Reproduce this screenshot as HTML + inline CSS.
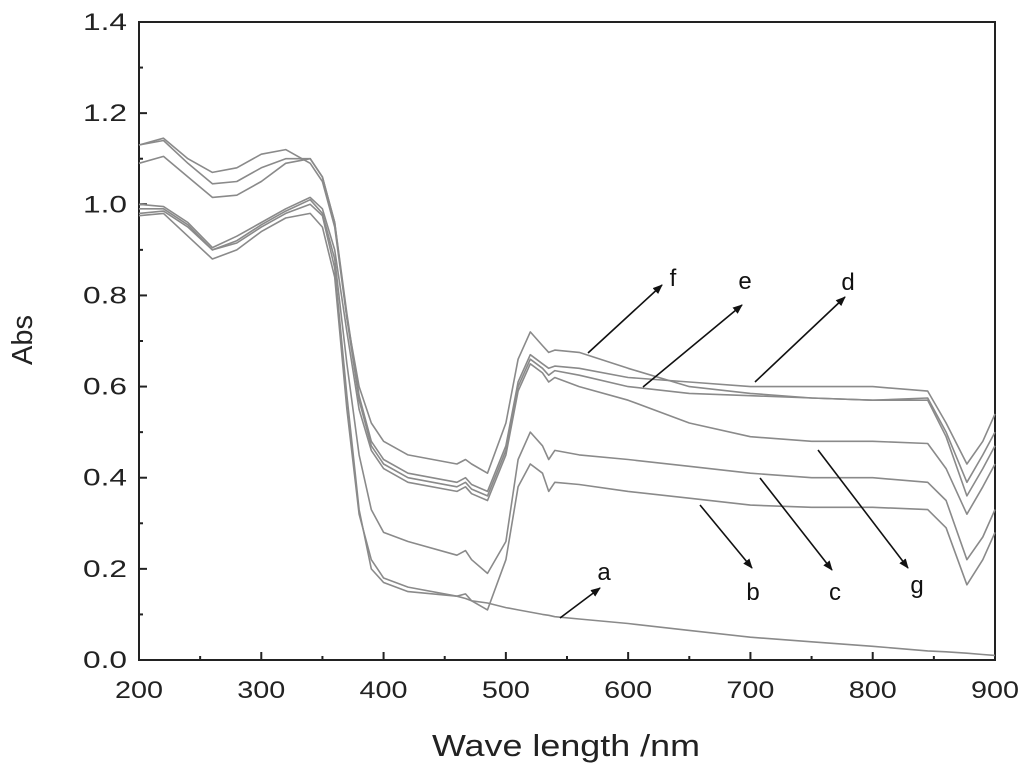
<!DOCTYPE html>
<html><head><meta charset="utf-8"><style>
body{margin:0;background:#fff;}
svg{display:block;font-family:"Liberation Sans",Arial,sans-serif;}
</style></head><body>
<svg id="chart" width="1024" height="769" viewBox="0 0 1024 769" xmlns="http://www.w3.org/2000/svg">
<g id="axes"></g><g id="series"></g><g id="annot"></g>
</svg>
<script>
const wavelengths=[200,220,240,260,280,300,320,340,350,360,370,380,390,400,420,460,467,472,485,500,510,520,530,535,540,560,600,650,700,750,800,845,860,877,890,900];
const seriesNames=['a','b','c','d','e','f','g'];
const seriesA=[0.975,0.98,0.93,0.88,0.90,0.94,0.97,0.98,0.95,0.84,0.55,0.32,0.22,0.18,0.16,0.14,0.135,0.13,0.125,0.115,0.11,0.105,0.1,0.098,0.095,0.09,0.08,0.065,0.05,0.04,0.03,0.02,0.018,0.015,0.012,0.01];
const seriesB=[0.98,0.985,0.95,0.90,0.915,0.95,0.98,1.0,0.975,0.86,0.58,0.33,0.20,0.17,0.15,0.14,0.145,0.13,0.11,0.22,0.38,0.43,0.41,0.37,0.39,0.385,0.37,0.355,0.34,0.335,0.335,0.33,0.29,0.165,0.22,0.28];
const seriesC=[0.99,0.99,0.955,0.90,0.92,0.955,0.985,1.01,0.98,0.88,0.65,0.45,0.33,0.28,0.26,0.23,0.24,0.22,0.19,0.26,0.44,0.50,0.47,0.44,0.46,0.45,0.44,0.425,0.41,0.40,0.40,0.39,0.35,0.22,0.27,0.33];
const seriesD=[1.13,1.14,1.09,1.045,1.05,1.08,1.10,1.10,1.06,0.96,0.76,0.58,0.48,0.44,0.41,0.39,0.40,0.385,0.37,0.47,0.61,0.67,0.65,0.64,0.645,0.64,0.62,0.61,0.60,0.60,0.60,0.59,0.52,0.43,0.48,0.54];
const seriesE=[1.09,1.105,1.06,1.015,1.02,1.05,1.09,1.10,1.06,0.96,0.75,0.57,0.47,0.43,0.40,0.38,0.39,0.375,0.36,0.46,0.60,0.66,0.64,0.625,0.635,0.625,0.60,0.585,0.58,0.575,0.57,0.575,0.50,0.39,0.45,0.50];
const seriesF=[1.13,1.145,1.10,1.07,1.08,1.11,1.12,1.09,1.05,0.95,0.75,0.60,0.52,0.48,0.45,0.43,0.44,0.43,0.41,0.52,0.66,0.72,0.69,0.675,0.68,0.675,0.64,0.60,0.585,0.575,0.57,0.57,0.49,0.36,0.42,0.47];
const seriesG=[1.0,0.995,0.96,0.905,0.93,0.96,0.99,1.015,0.99,0.90,0.72,0.55,0.46,0.42,0.39,0.37,0.38,0.365,0.35,0.45,0.59,0.65,0.63,0.61,0.62,0.60,0.57,0.52,0.49,0.48,0.48,0.475,0.42,0.32,0.38,0.43];
const xTicks=[200,300,400,500,600,700,800,900];
const yTicks=[0.0,0.2,0.4,0.6,0.8,1.0,1.2,1.4];
const allSeries=[seriesA,seriesB,seriesC,seriesD,seriesE,seriesF,seriesG];

const L=139,R=995,T=22,B=660;
const sx=v=>L+(v-200)/700*(R-L);
const sy=v=>B-v/1.4*(B-T);
const NS='http://www.w3.org/2000/svg';
function mk(tag,attrs,parent){const e=document.createElementNS(NS,tag);for(const k in attrs)e.setAttribute(k,attrs[k]);parent.appendChild(e);return e;}
const axes=document.getElementById('axes');
const frame=mk('rect',{x:L,y:T,width:R-L,height:B-T,fill:'none',stroke:'#222','stroke-width':2},axes);


for(let v=200;v<=900;v+=50){
  const major=v%100===0;const len=major?8:4;
  const t=mk('line',{x1:sx(v),x2:sx(v),y1:B,y2:B-len,stroke:'#222','stroke-width':2},axes);
  
  
}
xTicks.forEach(v=>{
  const t=mk('text',{x:sx(v),y:B+38,'text-anchor':'middle','font-size':24,fill:'#222',textLength:48,lengthAdjust:'spacingAndGlyphs'},axes);
  t.textContent=String(v);
  
  
});
for(let i=0;i<=14;i++){
  const v=i/10;const major=i%2===0;const len=major?8:4;
  const t=mk('line',{x1:L,x2:L+len,y1:sy(v),y2:sy(v),stroke:'#222','stroke-width':2},axes);
  
  
}
yTicks.forEach(v=>{
  const t=mk('text',{x:L-12,y:sy(v)+8,'text-anchor':'end','font-size':24,fill:'#222',textLength:44,lengthAdjust:'spacingAndGlyphs'},axes);
  t.textContent=v.toFixed(1);
  
  
});
const xt=mk('text',{x:566,y:756,'text-anchor':'middle','font-size':31,fill:'#222',textLength:268,lengthAdjust:'spacingAndGlyphs'},axes);
xt.textContent='Wave length /nm';


const yt=mk('text',{x:0,y:0,'text-anchor':'middle','font-size':29,fill:'#222',transform:'translate(32,340) rotate(-90)'},axes);
yt.textContent='Abs';



const sg=document.getElementById('series');
allSeries.forEach((s,i)=>{
  const d=s.map((v,j)=>(j?'L':'M')+sx(wavelengths[j]).toFixed(1)+','+sy(v).toFixed(1)).join(' ');
  const p=mk('path',{d:d,fill:'none',stroke:'#8a8a8a','stroke-width':1.6,'stroke-linejoin':'round'},sg);
  
  
});

const an=document.getElementById('annot');
mk('defs',{},an).innerHTML='<marker id="ah" markerWidth="10" markerHeight="8" refX="9" refY="4" orient="auto" markerUnits="userSpaceOnUse"><path d="M0,0 L10,4 L0,8 z" fill="#111"/></marker>';
const arrows=[['f',588,353,662,285,673,286],['e',643,387,742,305,745,289],['d',755,382,845,297,848,290],['b',700,505,752,568,753,600],['c',760,478,832,570,835,600],['g',818,450,908,568,917,593],['a',560,618,600,588,604,580]];
arrows.forEach(a=>{
  const l=mk('line',{x1:a[1],y1:a[2],x2:a[3],y2:a[4],stroke:'#111','stroke-width':1.6,'marker-end':'url(#ah)'},an);
  
  
  const t=mk('text',{x:a[5],y:a[6],'font-size':24,fill:'#111','text-anchor':'middle'},an);
  t.textContent=a[0];
  
  
});
</script>
</body></html>
